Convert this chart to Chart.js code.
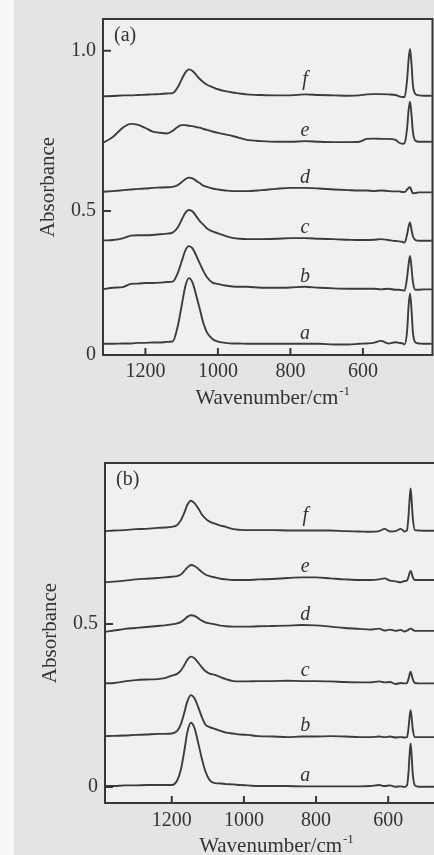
<!DOCTYPE html>
<html><head><meta charset="utf-8">
<script src="https://cdn.jsdelivr.net/npm/chart.js@4.4.1/dist/chart.umd.min.js"></script>
<style>
html,body{margin:0;padding:0;width:434px;height:855px;overflow:hidden;background:#e4e4e4;}
#strip{position:absolute;left:0;top:0;width:14px;height:855px;background:#f8f8f8;}
#wa{position:absolute;left:0;top:0;width:434px;height:430px;}
#wb{position:absolute;left:0;top:430px;width:445px;height:425px;}
</style></head><body>
<div id="strip"></div>
<div id="wa"><canvas id="ca"></canvas></div>
<div id="wb"><canvas id="cb"></canvas></div>
<script>
// ---------- data ----------
const curveNames = ['a','b','c','d','e','f'];
const xTickValues = [1200, 1000, 800, 600];
const xTickLabels = ['1200', '1000', '800', '600'];

// panel (a)
const wavenumbersA = [1315,1290,1260,1240,1220,1200,1180,1160,1140,1125,1110,1100,1090,1080,1070,1060,1050,1040,1030,1015,1000,980,960,940,920,880,840,800,760,720,680,640,610,590,570,550,530,510,500,490,485,478,474,470,466,462,455,445,430,410];
const absA_a = [0.085,0.085,0.086,0.086,0.088,0.088,0.089,0.089,0.091,0.092,0.144,0.204,0.264,0.290,0.276,0.237,0.194,0.149,0.120,0.100,0.092,0.088,0.086,0.086,0.085,0.085,0.085,0.085,0.085,0.085,0.083,0.083,0.085,0.086,0.088,0.094,0.086,0.090,0.088,0.086,0.083,0.126,0.202,0.242,0.193,0.120,0.089,0.086,0.085,0.085];
const absA_b = [0.256,0.260,0.263,0.272,0.273,0.275,0.275,0.276,0.278,0.279,0.308,0.342,0.376,0.390,0.383,0.361,0.336,0.312,0.293,0.276,0.272,0.267,0.264,0.263,0.263,0.260,0.260,0.261,0.263,0.260,0.258,0.257,0.257,0.257,0.257,0.255,0.257,0.254,0.254,0.252,0.251,0.293,0.333,0.359,0.324,0.278,0.254,0.254,0.255,0.255];
const absA_c = [0.408,0.409,0.415,0.423,0.424,0.424,0.425,0.427,0.429,0.432,0.450,0.472,0.494,0.503,0.498,0.484,0.468,0.457,0.445,0.436,0.430,0.422,0.416,0.413,0.412,0.412,0.413,0.415,0.415,0.413,0.412,0.410,0.409,0.409,0.410,0.412,0.409,0.406,0.405,0.403,0.401,0.427,0.451,0.464,0.442,0.421,0.409,0.407,0.407,0.407];
const absA_d = [0.560,0.562,0.565,0.567,0.569,0.570,0.572,0.573,0.574,0.575,0.581,0.590,0.599,0.604,0.602,0.594,0.587,0.579,0.575,0.570,0.567,0.564,0.562,0.562,0.562,0.565,0.569,0.572,0.572,0.570,0.567,0.565,0.564,0.564,0.562,0.564,0.562,0.561,0.561,0.559,0.559,0.567,0.572,0.574,0.564,0.555,0.556,0.558,0.558,0.558];
const absA_e = [0.714,0.731,0.762,0.772,0.769,0.759,0.748,0.744,0.742,0.750,0.763,0.768,0.768,0.766,0.765,0.762,0.760,0.756,0.753,0.748,0.744,0.739,0.734,0.728,0.722,0.718,0.716,0.716,0.718,0.716,0.715,0.715,0.716,0.725,0.726,0.725,0.725,0.722,0.713,0.710,0.712,0.759,0.814,0.841,0.801,0.747,0.719,0.716,0.716,0.716];
const absA_f = [0.858,0.859,0.861,0.861,0.862,0.863,0.864,0.865,0.867,0.868,0.888,0.911,0.932,0.942,0.937,0.925,0.912,0.902,0.894,0.887,0.880,0.874,0.870,0.867,0.864,0.862,0.861,0.861,0.864,0.862,0.861,0.860,0.861,0.864,0.865,0.865,0.864,0.862,0.858,0.856,0.856,0.911,0.972,1.006,0.960,0.893,0.865,0.861,0.860,0.860];
const yTicksA = [0.05, 0.5, 1.0];
const yTickLabelsA = ['0', '0.5', '1.0'];

// panel (b)
const wavenumbersB = [1385,1360,1330,1300,1270,1240,1220,1200,1185,1175,1165,1157,1147,1137,1127,1117,1107,1095,1080,1065,1050,1030,1010,990,960,920,880,840,800,760,720,680,650,625,610,595,580,565,555,548,544,541,538,535,532,526,515,500,485,470];
const absB_a = [0.003,0.003,0.005,0.005,0.006,0.006,0.006,0.006,0.020,0.052,0.112,0.167,0.197,0.181,0.137,0.089,0.049,0.021,0.012,0.011,0.009,0.008,0.006,0.005,0.003,0.003,0.003,0.002,0.002,0.002,0.002,0.002,0.003,0.006,0.003,0.005,0.001,0.002,0.000,0.005,0.041,0.095,0.134,0.095,0.041,0.005,0.001,0.001,0.001,0.001];
const absB_b = [0.156,0.157,0.158,0.160,0.161,0.163,0.163,0.164,0.172,0.192,0.229,0.262,0.282,0.272,0.246,0.216,0.192,0.184,0.178,0.172,0.167,0.164,0.161,0.160,0.156,0.155,0.153,0.155,0.155,0.156,0.155,0.153,0.153,0.155,0.153,0.155,0.152,0.153,0.152,0.153,0.178,0.212,0.236,0.212,0.178,0.153,0.153,0.153,0.153,0.153];
const absB_c = [0.318,0.319,0.324,0.328,0.330,0.331,0.334,0.342,0.347,0.357,0.374,0.390,0.400,0.395,0.382,0.368,0.356,0.348,0.344,0.337,0.331,0.325,0.324,0.324,0.325,0.325,0.326,0.325,0.325,0.324,0.322,0.321,0.321,0.324,0.321,0.322,0.316,0.319,0.318,0.319,0.331,0.344,0.354,0.344,0.331,0.319,0.318,0.318,0.318,0.318];
const absB_d = [0.476,0.480,0.485,0.488,0.491,0.494,0.496,0.499,0.502,0.506,0.514,0.522,0.527,0.525,0.518,0.511,0.505,0.502,0.499,0.495,0.493,0.492,0.492,0.492,0.493,0.494,0.495,0.497,0.496,0.492,0.488,0.485,0.483,0.486,0.480,0.483,0.479,0.482,0.477,0.480,0.482,0.485,0.486,0.485,0.482,0.479,0.479,0.479,0.479,0.479];
const absB_e = [0.628,0.630,0.633,0.637,0.639,0.641,0.643,0.645,0.647,0.652,0.663,0.673,0.681,0.678,0.670,0.660,0.652,0.647,0.643,0.639,0.637,0.635,0.635,0.635,0.637,0.638,0.641,0.643,0.643,0.640,0.637,0.635,0.635,0.637,0.640,0.633,0.631,0.628,0.632,0.633,0.644,0.656,0.663,0.656,0.644,0.635,0.635,0.635,0.635,0.635];
const absB_f = [0.785,0.787,0.788,0.791,0.792,0.795,0.796,0.798,0.804,0.818,0.842,0.865,0.878,0.871,0.856,0.837,0.824,0.814,0.808,0.802,0.798,0.791,0.789,0.788,0.788,0.788,0.787,0.787,0.787,0.787,0.785,0.784,0.783,0.785,0.792,0.784,0.785,0.792,0.784,0.788,0.827,0.878,0.916,0.878,0.827,0.788,0.787,0.786,0.786,0.786];
const yTicksB = [0, 0.5];
const yTickLabelsB = ['0', '0.5'];

// ---------- style ----------
const AXIS_COLOR = '#363636';
const LINE_COLOR = '#3c3c3c';
const TEXT_COLOR = '#333333';
const AREA_FILL = '#f0f0f0';
const SERIF = "'Liberation Serif', 'DejaVu Serif', serif";

function interpAt(wn, vals, w) {
  for (let i = 0; i < wn.length - 1; i++) {
    const a = wn[i], b = wn[i + 1];
    if ((w <= a && w >= b)) {
      const t = (w - a) / (b - a);
      return vals[i] + t * (vals[i + 1] - vals[i]);
    }
  }
  return vals[vals.length - 1];
}

function makePanel(canvasId, cfg) {
  const datasets = cfg.series.map((vals, i) => ({
    label: curveNames[i],
    data: cfg.wn.map((w, j) => ({ x: w, y: vals[j] })),
    borderColor: LINE_COLOR,
    borderWidth: 1.9,
    pointRadius: 0,
    fill: false,
    cubicInterpolationMode: 'monotone'
  }));

  const deco = {
    id: 'deco_' + canvasId,
    beforeDatasetsDraw(chart) {
      const { ctx, chartArea: a } = chart;
      ctx.save();
      ctx.fillStyle = AREA_FILL;
      ctx.fillRect(a.left, a.top, a.right - a.left, a.bottom - a.top);
      ctx.restore();
    },
    afterDatasetsDraw(chart) {
      const { ctx, chartArea: a, scales: { x, y } } = chart;
      ctx.save();
      // frame
      ctx.strokeStyle = AXIS_COLOR;
      ctx.lineWidth = 2;
      ctx.strokeRect(a.left, a.top, a.right - a.left, a.bottom - a.top);
      // inward tick marks
      ctx.beginPath();
      x.ticks.forEach(t => {
        const px = x.getPixelForValue(t.value);
        ctx.moveTo(px, a.bottom);
        ctx.lineTo(px, a.bottom - 7);
      });
      y.ticks.forEach(t => {
        if (t.value <= y.min + 1e-6) return;
        const py = y.getPixelForValue(t.value);
        ctx.moveTo(a.left, py);
        ctx.lineTo(a.left + 8, py);
      });
      ctx.stroke();

      ctx.fillStyle = TEXT_COLOR;
      // panel label
      ctx.font = '20px ' + SERIF;
      ctx.textAlign = 'left';
      ctx.textBaseline = 'middle';
      ctx.fillText(cfg.panelLabel, a.left + 11, a.top + 17);

      // curve labels
      ctx.font = 'italic 20px ' + SERIF;
      ctx.textAlign = 'center';
      ctx.textBaseline = 'alphabetic';
      cfg.series.forEach((vals, i) => {
        const v = interpAt(cfg.wn, vals, cfg.labelWn);
        const lift = curveNames[i] === 'f' ? 9 : 5;
        ctx.fillText(curveNames[i], x.getPixelForValue(cfg.labelWn), y.getPixelForValue(v) - lift);
      });

      // x title with superscript
      const main = 'Wavenumber/cm', sup = '-1';
      ctx.font = '21px ' + SERIF;
      const wMain = ctx.measureText(main).width;
      ctx.font = '13px ' + SERIF;
      const wSup = ctx.measureText(sup).width;
      const cx = (a.left + a.right) / 2 + 5;
      const bx = cx - (wMain + wSup + 1) / 2;
      const by = a.bottom + 49;
      ctx.textAlign = 'left';
      ctx.font = '21px ' + SERIF;
      ctx.fillText(main, bx, by);
      ctx.font = '13px ' + SERIF;
      ctx.fillText(sup, bx + wMain + 1, by - 9);

      // y title
      ctx.save();
      ctx.translate(a.left - 55, (a.top + a.bottom) / 2);
      ctx.rotate(-Math.PI / 2);
      ctx.font = '21px ' + SERIF;
      ctx.textAlign = 'center';
      ctx.textBaseline = 'middle';
      ctx.fillText('Absorbance', 0, 0);
      ctx.restore();

      ctx.restore();
    }
  };

  return new Chart(document.getElementById(canvasId), {
    type: 'line',
    data: { datasets },
    options: {
      responsive: true,
      maintainAspectRatio: false,
      animation: false,
      events: [],
      layout: { padding: { top: cfg.padTop, right: cfg.padRight, left: 0, bottom: 0 } },
      plugins: { legend: { display: false }, tooltip: { enabled: false }, title: { display: false } },
      scales: {
        x: {
          type: 'linear', reverse: true, min: cfg.xMin, max: cfg.xMax,
          afterBuildTicks: s => { s.ticks = xTickValues.map(v => ({ value: v })); },
          afterFit: s => { s.height = cfg.xAxisHeight; },
          grid: { display: false, drawTicks: false },
          border: { display: false },
          ticks: {
            padding: cfg.xTickPad, color: TEXT_COLOR, maxRotation: 0, autoSkip: false,
            font: { family: SERIF, size: 20 },
            callback: (v, i) => xTickLabels[i]
          }
        },
        y: {
          type: 'linear', min: cfg.yMin, max: cfg.yMax,
          afterBuildTicks: s => { s.ticks = cfg.yTicks.map(v => ({ value: v })); },
          afterFit: s => { s.width = cfg.yAxisWidth; },
          grid: { display: false, drawTicks: false },
          border: { display: false },
          ticks: {
            padding: 7, color: TEXT_COLOR, autoSkip: false,
            font: { family: SERIF, size: 20 },
            callback: (v, i) => cfg.yLabels[i]
          }
        }
      }
    },
    plugins: [deco]
  });
}

makePanel('ca', {
  wn: wavenumbersA,
  series: [absA_a, absA_b, absA_c, absA_d, absA_e, absA_f],
  xMin: 408, xMax: 1317,
  yMin: 0.05, yMax: 1.0995,
  yTicks: yTicksA, yLabels: yTickLabelsA,
  padTop: 10, padRight: 1.5, yAxisWidth: 103, xAxisHeight: 75, xTickPad: 5,
  panelLabel: '(a)', labelWn: 760
});

makePanel('cb', {
  wn: wavenumbersB,
  series: [absB_a, absB_b, absB_c, absB_d, absB_e, absB_f],
  xMin: 462, xMax: 1385,
  yMin: -0.049, yMax: 0.994,
  yTicks: yTicksB, yLabels: yTickLabelsB,
  padTop: 33, padRight: 7, yAxisWidth: 105, xAxisHeight: 52, xTickPad: 6,
  panelLabel: '(b)', labelWn: 830
});
</script>
</body></html>
